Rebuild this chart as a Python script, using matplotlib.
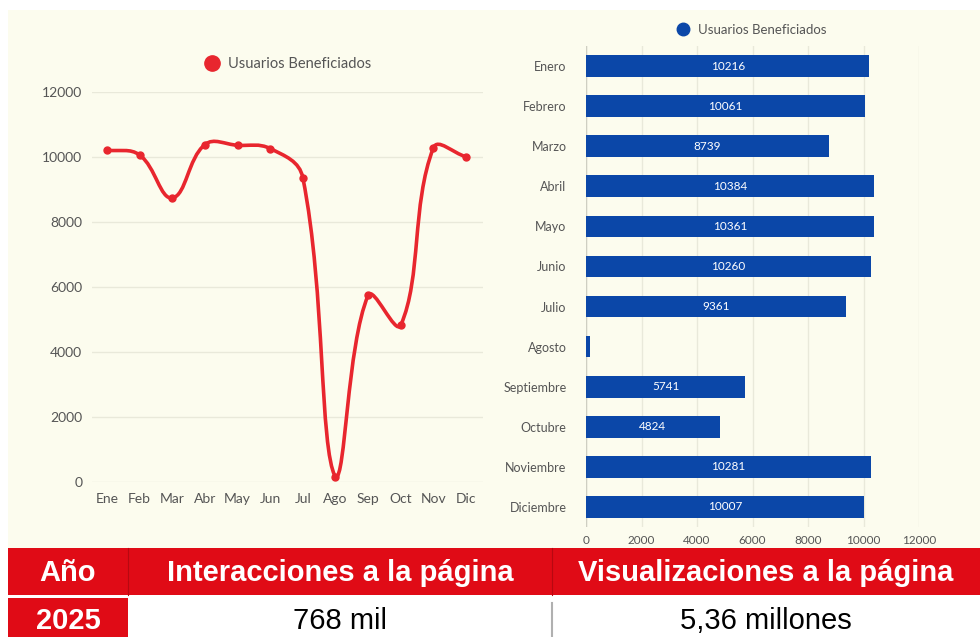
"""
Usuarios beneficiados 2025: curva mensual, barras horizontales y tabla resumen.
Saves out.png (980x637).
"""

import numpy as np
import matplotlib
matplotlib.use("Agg")
import matplotlib.pyplot as plt
from matplotlib.path import Path
from matplotlib.patches import PathPatch, Rectangle
from matplotlib.lines import Line2D

# Data
MONTHS_SHORT = ["Ene", "Feb", "Mar", "Abr", "May", "Jun",
                "Jul", "Ago", "Sep", "Oct", "Nov", "Dic"]
MONTHS_LONG = ["Enero", "Febrero", "Marzo", "Abril", "Mayo", "Junio", "Julio",
               "Agosto", "Septiembre", "Octubre", "Noviembre", "Diciembre"]
USERS = [10216, 10061, 8739, 10384, 10361, 10260, 9361,
         150, 5741, 4824, 10281, 10007]
BAR_LABELS = ["10216", "10061", "8739", "10384", "10361", "10260", "9361",
              "", "5741", "4824", "10281", "10007"]
SERIES_NAME = "Usuarios Beneficiados"
Y_TICKS = [0, 2000, 4000, 6000, 8000, 10000, 12000]

TABLE_HEADER = ["Año", "Interacciones a la página", "Visualizaciones a la página"]
TABLE_ROW = ["2025", "768 mil", "5,36 millones"]

# Styling
W, H = 980, 637
CREAM = "#fcfcee"
GRID = "#e9e9da"
TEXT = "#555555"
RED_LINE = "#e8262e"
BLUE_BAR = "#0b47a8"
TABLE_RED = "#e00b16"
CHART_FONT = ["Lato", "DejaVu Sans"]
TABLE_FONT = ["Liberation Sans", "DejaVu Sans"]


def px_box(x0, y0, x1, y1):
    """Pixel box (top-left origin) -> figure fraction [left, bottom, w, h]."""
    return [x0 / W, (H - y1) / H, (x1 - x0) / W, (y1 - y0) / H]


def spline_path(ax, xs, ys, tension=0.4):
    """Chart.js style cubic spline through the points, control points capped to the axes."""
    pts = ax.transData.transform(np.column_stack([xs, ys]))
    n = len(pts)
    cp_prev, cp_next = [], []
    for i in range(n):
        prev = pts[max(i - 1, 0)]
        cur = pts[i]
        nxt = pts[min(i + 1, n - 1)]
        d01 = np.hypot(*(cur - prev))
        d12 = np.hypot(*(nxt - cur))
        tot = d01 + d12 if (d01 + d12) > 0 else 1.0
        fa = tension * d01 / tot
        fb = tension * d12 / tot
        cp_prev.append(cur - fa * (nxt - prev))
        cp_next.append(cur + fb * (nxt - prev))

    verts = [pts[0]]
    codes = [Path.MOVETO]
    for i in range(n - 1):
        verts += [cp_next[i], cp_prev[i + 1], pts[i + 1]]
        codes += [Path.CURVE4] * 3

    verts = ax.transData.inverted().transform(np.array(verts))
    y0, y1 = ax.get_ylim()
    verts[:, 1] = np.clip(verts[:, 1], y0, y1)
    return Path(verts, codes)


fig = plt.figure(figsize=(W / 100, H / 100), dpi=100)
fig.patch.set_facecolor("white")

# cream panel behind both charts
fig.patches.append(Rectangle((8 / W, (H - 548) / H), (W - 8) / W, 538 / H,
                             transform=fig.transFigure, facecolor=CREAM,
                             edgecolor="none", zorder=-5))

# ---- left: line chart
ax1 = fig.add_axes(px_box(92, 92, 483, 482))
ax1.set_facecolor("none")
x = np.arange(len(MONTHS_SHORT))
ax1.set_xlim(-0.46, 11.52)
ax1.set_ylim(0, 12000)
ax1.set_yticks(Y_TICKS)
ax1.set_xticks(x)
ax1.set_xticklabels(MONTHS_SHORT)
for s in ax1.spines.values():
    s.set_visible(False)
ax1.grid(axis="y", color=GRID, linewidth=1)
ax1.set_axisbelow(True)
ax1.tick_params(length=0, labelsize=10, labelcolor=TEXT)
ax1.tick_params(axis="y", pad=7)
ax1.tick_params(axis="x", pad=8)
for lbl in ax1.get_xticklabels() + ax1.get_yticklabels():
    lbl.set_family(CHART_FONT)

curve = spline_path(ax1, x, USERS)
ax1.add_patch(PathPatch(curve, facecolor="none", edgecolor=RED_LINE,
                        linewidth=2.6, capstyle="round", joinstyle="round", zorder=3))
ax1.plot(x, USERS, linestyle="none", marker="o", markersize=5,
         color=RED_LINE, zorder=4)

h1 = Line2D([], [], linestyle="none", marker="o", markersize=11, color=RED_LINE)
fig.legend(handles=[h1], labels=[SERIES_NAME], loc="center",
           bbox_to_anchor=(284 / W, (H - 64) / H), frameon=False,
           handletextpad=0.1, prop={"family": CHART_FONT, "size": 10.5},
           labelcolor=TEXT)

# ---- right: horizontal bars
ax2 = fig.add_axes(px_box(586, 46, 919, 527))
ax2.set_facecolor("none")
yb = np.arange(len(MONTHS_LONG))
bars = ax2.barh(yb, USERS, height=0.54, color=BLUE_BAR, zorder=3)
ax2.set_ylim(len(MONTHS_LONG) - 0.5, -0.5)
ax2.set_xlim(0, 12000)
ax2.set_xticks(Y_TICKS)
ax2.set_yticks(yb)
ax2.set_yticklabels(MONTHS_LONG)
for s in ax2.spines.values():
    s.set_visible(False)
ax2.axvline(0, color="#cfcfc2", linewidth=1, zorder=2)
ax2.grid(axis="x", color=GRID, linewidth=1)
ax2.set_axisbelow(True)
ax2.tick_params(length=0, labelsize=8.5, labelcolor=TEXT)
ax2.tick_params(axis="y", pad=14, labelsize=9)
ax2.tick_params(axis="x", pad=6)
for lbl in ax2.get_xticklabels() + ax2.get_yticklabels():
    lbl.set_family(CHART_FONT)
ax2.bar_label(bars, labels=BAR_LABELS, label_type="center", color="white",
              fontsize=8.5, family=CHART_FONT)

h2 = Line2D([], [], linestyle="none", marker="o", markersize=9, color=BLUE_BAR)
fig.legend(handles=[h2], labels=[SERIES_NAME], loc="center",
           bbox_to_anchor=(748 / W, (H - 30) / H), frameon=False,
           handletextpad=0.1, prop={"family": CHART_FONT, "size": 9.5},
           labelcolor=TEXT)

# ---- bottom: summary table
col_edges = [8, 128, 552, 980]
header_top, header_bot = 548, 595
row_top, row_bot = 598, 637
for i in range(3):
    x0, x1 = col_edges[i], col_edges[i + 1]
    fig.patches.append(Rectangle((x0 / W, (H - header_bot) / H), (x1 - x0) / W,
                                 (header_bot - header_top) / H,
                                 transform=fig.transFigure, facecolor=TABLE_RED,
                                 edgecolor="none", zorder=1))
    fig.text((x0 + x1) / 2 / W, (H - 573) / H, TABLE_HEADER[i], ha="center",
             va="center", color="white", fontsize=21, fontweight="bold",
             family=TABLE_FONT)
    cell_color = TABLE_RED if i == 0 else "white"
    fig.patches.append(Rectangle((x0 / W, (H - row_bot) / H), (x1 - x0) / W,
                                 (row_bot - row_top) / H,
                                 transform=fig.transFigure, facecolor=cell_color,
                                 edgecolor="none", zorder=1))
    fig.text((x0 + x1) / 2 / W, (H - 621) / H, TABLE_ROW[i], ha="center",
             va="center", color="white" if i == 0 else "black", fontsize=21,
             fontweight="bold" if i == 0 else "normal", family=TABLE_FONT)

# thin cell dividers
for xe in col_edges[1:3]:
    fig.add_artist(Line2D([xe / W, xe / W], [(H - header_bot) / H, (H - header_top) / H],
                          color="#b80810", linewidth=0.8))
fig.add_artist(Line2D([552 / W, 552 / W], [0, (H - 603) / H],
                      color="#b0b0b0", linewidth=1.5))

fig.savefig("out.png", dpi=100, facecolor=fig.get_facecolor())
